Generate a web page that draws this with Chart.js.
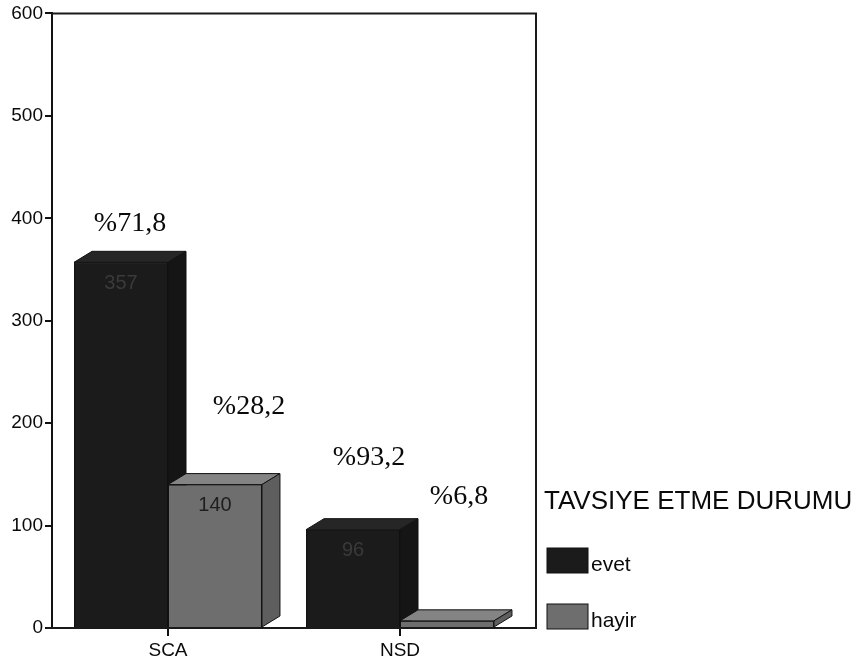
<!DOCTYPE html>
<html>
<head>
<meta charset="utf-8">
<script src="https://cdn.jsdelivr.net/npm/chart.js@4"></script>
<style>
  html, body { margin: 0; padding: 0; background: #fff; }
  #wrap { width: 857px; height: 667px; }
</style>
</head>
<body>
<div id="wrap"><canvas id="chart" width="857" height="667"></canvas></div>
<script>
const categories = ['SCA', 'NSD'];
const evet = [357, 96];
const hayir = [140, 7];
const seriesNames = ['evet', 'hayir'];
const legendTitle = 'TAVSIYE ETME DURUMU';
const yMax = 600;
const yStep = 100;

const faceColors = [
    {front: '#1b1b1b', top: '#262626', side: '#151515', text: '#3a3a3a'},
    {front: '#6e6e6e', top: '#848484', side: '#5e5e5e', text: '#1e1e1e'},
];

// fake 3D boxes, frame, labels and legend
const box3d = {
    id: 'box3d',
    afterDatasetsDraw(chart, args, opts) {
        const ctx = chart.ctx;
        const dx = opts.dx, dy = opts.dy;
        ctx.save();
        chart.data.datasets.forEach((ds, di) => {
            const meta = chart.getDatasetMeta(di);
            const c = faceColors[di];
            meta.data.forEach((bar) => {
                const {x, y, base, width} = bar.getProps(['x', 'y', 'base', 'width'], true);
                const l = x - width / 2, r = x + width / 2;
                bar.draw(ctx);
                ctx.lineWidth = 1;
                ctx.strokeStyle = '#111';
                // top
                ctx.beginPath();
                ctx.moveTo(l, y);
                ctx.lineTo(l + dx, y - dy);
                ctx.lineTo(r + dx, y - dy);
                ctx.lineTo(r, y);
                ctx.closePath();
                ctx.fillStyle = c.top;
                ctx.fill();
                ctx.stroke();
                // side
                ctx.beginPath();
                ctx.moveTo(r, y);
                ctx.lineTo(r + dx, y - dy);
                ctx.lineTo(r + dx, base - dy);
                ctx.lineTo(r, base);
                ctx.closePath();
                ctx.fillStyle = c.side;
                ctx.fill();
                ctx.stroke();
            });
        });

        // values inside bars
        ctx.font = '20px "Liberation Sans", Arial, sans-serif';
        ctx.textAlign = 'center';
        ctx.textBaseline = 'middle';
        chart.data.datasets.forEach((ds, di) => {
            chart.getDatasetMeta(di).data.forEach((bar, i) => {
                const v = ds.data[i];
                if (v < 30) return;
                ctx.fillStyle = faceColors[di].text;
                ctx.fillText(String(v), bar.x, bar.y + 21);
            });
        });

        // percentages
        ctx.font = '28px "Liberation Serif", "Times New Roman", serif';
        ctx.fillStyle = '#0a0a0a';
        chart.data.datasets.forEach((ds, di) => {
            chart.getDatasetMeta(di).data.forEach((bar, i) => {
                const total = chart.data.datasets.reduce((s, d) => s + d.data[i], 0);
                const pct = '%' + (ds.data[i] / total * 100).toFixed(1).replace('.', ',');
                const off = opts.pctOffsets[i * 2 + di];
                ctx.fillText(pct, bar.x + off[0], bar.y + off[1]);
            });
        });

        // frame
        const a = chart.chartArea;
        ctx.strokeStyle = '#1a1a1a';
        ctx.lineWidth = 2;
        ctx.beginPath();
        ctx.moveTo(a.left, a.top);
        ctx.lineTo(a.right + dx + 2, a.top);
        ctx.lineTo(a.right + dx + 2, a.bottom);
        ctx.lineTo(a.left - 5, a.bottom);
        ctx.stroke();

        // legend
        const lx = a.right + dx + 10;
        ctx.textAlign = 'left';
        ctx.fillStyle = '#0a0a0a';
        ctx.font = '26px "Liberation Sans", Arial, sans-serif';
        ctx.fillText(legendTitle, lx, 502);
        ctx.font = '21px "Liberation Sans", Arial, sans-serif';
        seriesNames.forEach((name, di) => {
            const by = 548 + di * 56;
            ctx.fillStyle = faceColors[di].front;
            ctx.fillRect(lx + 3, by, 41, 25);
            ctx.lineWidth = 1;
            ctx.strokeStyle = '#111';
            ctx.strokeRect(lx + 3, by, 41, 25);
            ctx.fillStyle = '#0a0a0a';
            ctx.fillText(name, lx + 47, by + 17);
        });
        ctx.restore();
    }
};

const ctx = document.getElementById('chart').getContext('2d');
new Chart(ctx, {
    type: 'bar',
    data: {
        labels: categories,
        datasets: [
            {label: seriesNames[0], data: evet, backgroundColor: faceColors[0].front,
                borderColor: '#111', borderWidth: 1, barPercentage: 1, categoryPercentage: 0.81},
            {label: seriesNames[1], data: hayir, backgroundColor: faceColors[1].front,
                borderColor: '#111', borderWidth: 1, barPercentage: 1, categoryPercentage: 0.81},
        ]
    },
    options: {
        responsive: false,
        animation: false,
        layout: {padding: {top: 9, right: 341, left: 0, bottom: 0}},
        plugins: {
            legend: {display: false},
            tooltip: {enabled: false},
            box3d: {dx: 18, dy: 11, pctOffsets: [[9, -39], [34, -78], [16, -72], [12, -124]]}
        },
        scales: {
            x: {
                grid: {display: true, drawOnChartArea: false, offset: false, tickLength: 8, color: '#111', lineWidth: 2},
                border: {display: false},
                ticks: {color: '#0a0a0a', padding: 3, font: {family: '"Liberation Sans", Arial, sans-serif', size: 19}},
                afterFit(scale) { scale.height = 39; }
            },
            y: {
                min: 0,
                max: yMax,
                grid: {display: true, drawOnChartArea: false, tickLength: 7, color: '#111', lineWidth: 2},
                border: {display: true, color: '#111', width: 2},
                ticks: {stepSize: yStep, color: '#0a0a0a', padding: 2, font: {family: '"Liberation Sans", Arial, sans-serif', size: 19}},
                afterFit(scale) { scale.width = 52; }
            }
        }
    },
    plugins: [box3d]
});
</script>
</body>
</html>
